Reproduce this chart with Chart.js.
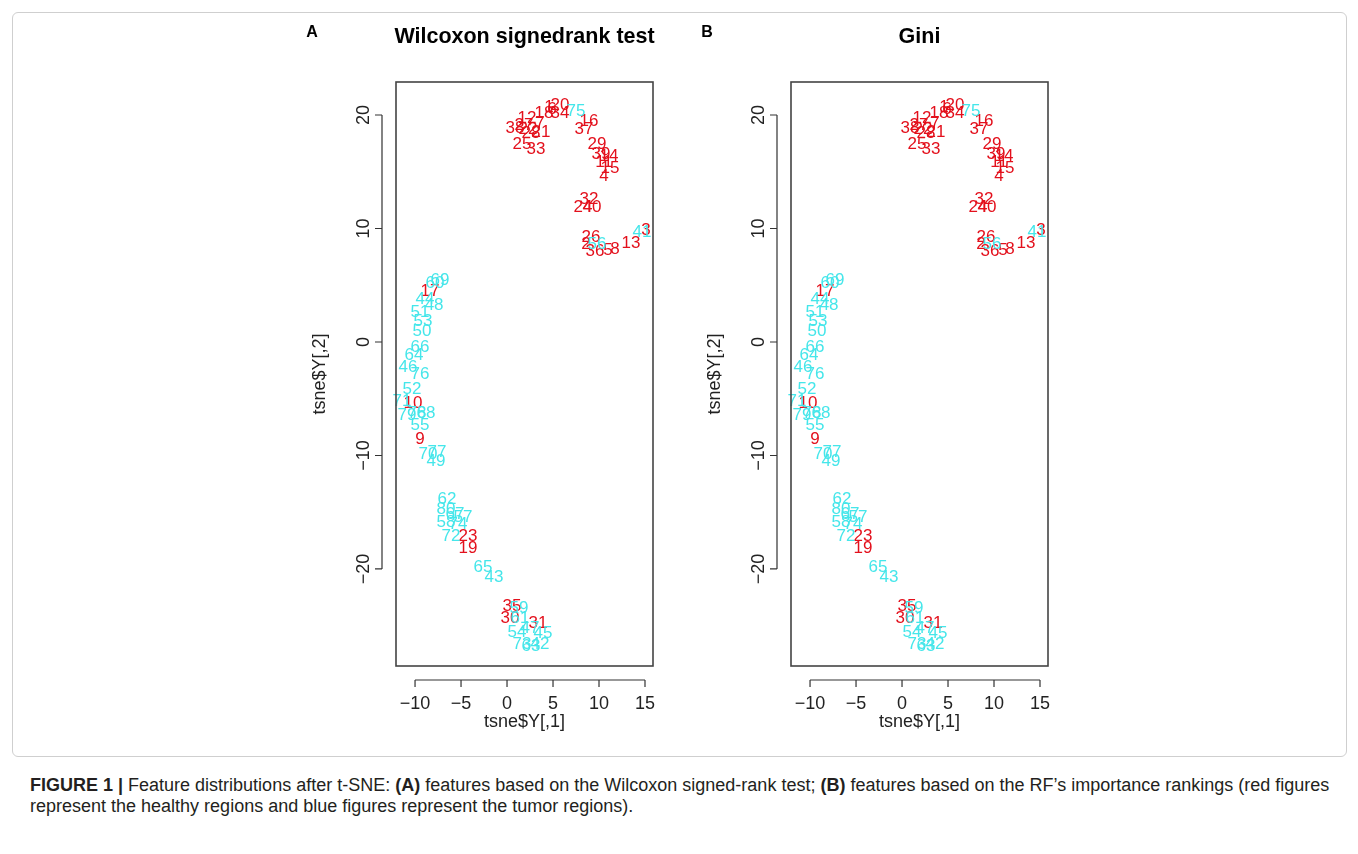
<!DOCTYPE html>
<html>
<head>
<meta charset="utf-8">
<script src="https://cdn.jsdelivr.net/npm/chart.js@4.4.1/dist/chart.umd.min.js"></script>
<style>
  body { margin: 0; background: #fff; width: 1358px; height: 854px; position: relative; font-family: "Liberation Sans", Arial, sans-serif; }
  #frame { position: absolute; left: 12px; top: 12px; width: 1333px; height: 743px; border: 1px solid #cfcfcf; border-radius: 6px; }
  canvas { position: absolute; top: 0; }
  #panelA { left: 290px; }
  #panelB { left: 685px; }
  #caption { position: absolute; left: 30px; top: 775px; width: 1320px; font-size: 18px; line-height: 21px; color: #231f20; white-space: nowrap; }
</style>
</head>
<body>
<div id="frame"></div>
<canvas id="panelA" width="395" height="760"></canvas>
<canvas id="panelB" width="395" height="760"></canvas>
<div id="caption"><b>FIGURE 1 |</b> Feature distributions after t-SNE: <b>(A)</b> features based on the Wilcoxon signed-rank test; <b>(B)</b> features based on the RF’s importance rankings (red figures<br>represent the healthy regions and blue figures represent the tumor regions).</div>
<script>
// feature ids 1..40 = healthy (red), 41..80 = tumor (cyan)
const healthyIds = [1,2,3,4,5,6,7,8,9,10,11,12,13,14,15,16,17,18,19,20,21,22,23,24,25,26,27,28,29,30,31,32,33,34,35,36,37,38,39,40];
const healthyX = [4.57,8.59,15.11,10.54,10.98,4.89,3.59,11.74,-9.46,-10.22,10.54,2.17,13.48,11.09,11.20,8.91,-8.37,4.02,-4.24,5.76,
                  3.70,2.28,-4.24,8.26,1.63,9.13,1.85,2.61,9.78,0.33,3.37,8.91,3.15,5.76,0.54,9.57,8.37,0.87,10.22,9.24];
const healthyY = [20.67,8.63,9.87,14.62,8.11,20.49,19.26,8.19,-8.55,-5.37,15.86,19.74,8.72,16.39,15.33,19.47,4.49,20.18,-18.15,20.88,
                  18.50,18.77,-17.09,11.89,17.44,9.25,19.12,18.41,17.44,-24.32,-24.76,12.60,17.00,20.18,-23.26,8.02,18.77,18.85,16.56,11.89];

const tumorIds = [41,42,43,44,45,46,47,48,49,50,51,52,53,54,55,56,57,58,59,60,61,62,63,64,65,66,67,68,69,70,71,72,73,74,75,76,77,78,79,80];
const tumorX = [14.67,3.59,-1.41,-8.91,3.91,-10.76,2.50,-7.93,-7.72,-9.24,-9.46,-10.33,-9.13,1.09,-9.46,9.78,-4.78,-6.63,1.30,-7.83,
                1.41,-6.52,2.61,-10.11,-2.61,-9.46,-5.65,-8.80,-7.28,-8.59,-11.41,-6.09,1.63,-5.33,7.50,-9.46,-7.61,-9.78,-10.87,-6.63];
const tumorY = [9.69,-26.61,-20.70,3.79,-25.64,-2.20,-25.20,3.26,-10.49,0.97,2.64,-4.14,1.85,-25.55,-7.31,8.63,-15.42,-15.86,-23.44,5.20,
                -24.32,-13.83,-26.78,-1.15,-19.82,-0.44,-15.15,-6.26,5.46,-9.87,-5.20,-17.09,-26.61,-16.04,20.35,-2.82,-9.69,-6.26,-6.43,-14.71];

const xTicks = [-10, -5, 0, 5, 10, 15];
const yTicks = [-20, -10, 0, 10, 20];
const xRange = [-12.07, 15.87];
const yRange = [-28.55, 22.91];

const panels = [
    { canvas: 'panelA', letter: 'A', title: 'Wilcoxon signedrank test' },
    { canvas: 'panelB', letter: 'B', title: 'Gini' }
];

function toPoints(xs, ys) {
    return xs.map((x, i) => ({ x: x, y: ys[i] }));
}

function tickText(t) {
    return t < 0 ? '\u2212' + Math.abs(t) : String(t);
}

/**
 * draws the feature numbers at the point positions, plus an R-like box and axes
 */
const rPlotPlugin = {
    id: 'rPlot',
    afterDatasetsDraw(chart, args, opts) {
        const ctx = chart.ctx;
        const area = chart.chartArea;
        const xs = chart.scales.x;
        const ys = chart.scales.y;

        ctx.save();
        ctx.font = '17px "Liberation Sans", Arial, sans-serif';
        ctx.textAlign = 'center';
        ctx.textBaseline = 'middle';
        chart.data.datasets.forEach((ds, d) => {
            const meta = chart.getDatasetMeta(d);
            ctx.fillStyle = ds.textColor;
            meta.data.forEach((el, i) => {
                ctx.fillText(String(ds.ids[i]), el.x, el.y);
            });
        });

        // box
        ctx.strokeStyle = '#444';
        ctx.lineWidth = 1.6;
        ctx.strokeRect(area.left, area.top, area.right - area.left, area.bottom - area.top);

        // x axis (detached below the box)
        const axY = area.bottom + 14;
        ctx.lineWidth = 1.2;
        ctx.strokeStyle = '#333';
        ctx.beginPath();
        ctx.moveTo(xs.getPixelForValue(xTicks[0]), axY);
        ctx.lineTo(xs.getPixelForValue(xTicks[xTicks.length - 1]), axY);
        xTicks.forEach(t => {
            const px = xs.getPixelForValue(t);
            ctx.moveTo(px, axY);
            ctx.lineTo(px, axY + 7);
        });
        ctx.stroke();
        ctx.fillStyle = '#222';
        ctx.font = '18px "Liberation Sans", Arial, sans-serif';
        xTicks.forEach(t => {
            ctx.fillText(tickText(t), xs.getPixelForValue(t), axY + 24);
        });
        ctx.fillText('tsne$Y[,1]', (area.left + area.right) / 2, area.bottom + 56);

        // y axis (detached left of the box), labels parallel to the axis
        const axX = area.left - 14;
        ctx.beginPath();
        ctx.moveTo(axX, ys.getPixelForValue(yTicks[0]));
        ctx.lineTo(axX, ys.getPixelForValue(yTicks[yTicks.length - 1]));
        yTicks.forEach(t => {
            const py = ys.getPixelForValue(t);
            ctx.moveTo(axX, py);
            ctx.lineTo(axX - 7, py);
        });
        ctx.stroke();
        yTicks.forEach(t => {
            ctx.save();
            ctx.translate(axX - 18, ys.getPixelForValue(t));
            ctx.rotate(-Math.PI / 2);
            ctx.fillText(tickText(t), 0, 0);
            ctx.restore();
        });
        ctx.save();
        ctx.translate(area.left - 76, (area.top + area.bottom) / 2);
        ctx.rotate(-Math.PI / 2);
        ctx.fillText('tsne$Y[,2]', 0, 0);
        ctx.restore();

        // titles
        ctx.fillStyle = '#000';
        ctx.font = 'bold 21.5px "Liberation Sans", Arial, sans-serif';
        ctx.fillText(opts.title, (area.left + area.right) / 2, 37);
        ctx.font = 'bold 16px "Liberation Sans", Arial, sans-serif';
        ctx.fillText(opts.letter, 22, 33);
        ctx.restore();
    }
};

panels.forEach(p => {
    new Chart(document.getElementById(p.canvas), {
        type: 'scatter',
        data: {
            datasets: [
                { ids: healthyIds, data: toPoints(healthyX, healthyY), textColor: '#e3101c', pointRadius: 0 },
                { ids: tumorIds, data: toPoints(tumorX, tumorY), textColor: '#45e6ea', pointRadius: 0 }
            ]
        },
        options: {
            responsive: false,
            animation: false,
            layout: { padding: { left: 106, right: 32, top: 82, bottom: 94 } },
            scales: {
                x: { type: 'linear', display: false, min: xRange[0], max: xRange[1] },
                y: { type: 'linear', display: false, min: yRange[0], max: yRange[1] }
            },
            plugins: {
                legend: { display: false },
                tooltip: { enabled: false },
                rPlot: { title: p.title, letter: p.letter }
            }
        },
        plugins: [rPlotPlugin]
    });
});
</script>
</body>
</html>
